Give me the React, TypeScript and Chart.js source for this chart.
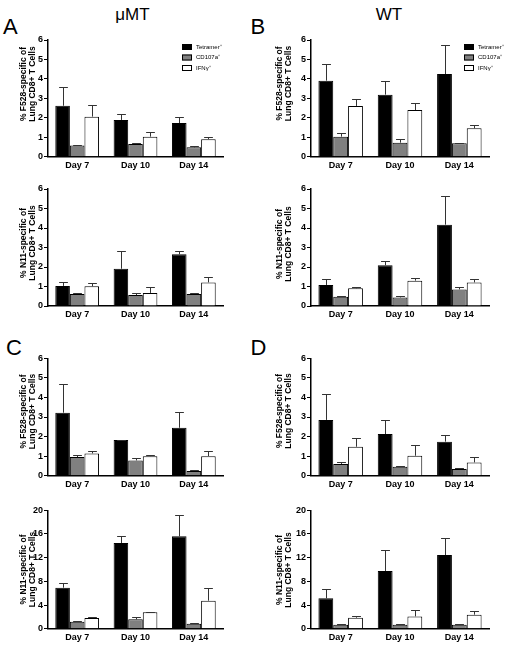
import React, { useEffect, useRef } from "react";
import { Chart, registerables } from "chart.js";

Chart.register(...registerables);

// ---------- data ----------
const DAYS = ["Day 7", "Day 10", "Day 14"];
const SERIES = ["Tetramer⁺", "CD107a⁺", "IFNγ⁺"];
const FILLS = ["#000000", "#808080", "#ffffff"];

const Y_TITLE_F528 = ["% F528-specific of", "Lung CD8+ T Cells"];
const Y_TITLE_N11 = ["% N11-specific of", "Lung CD8+ T Cells"];

// rows of each array: Tetramer+, CD107a+, IFNγ+ ; columns: Day 7, Day 10, Day 14
const A_F528_MEAN = [[2.62, 1.89, 1.73], [0.58, 0.65, 0.48], [2.06, 1.03, 0.9]];
const A_F528_ERR = [[0.95, 0.31, 0.33], [0.04, 0.05, 0.08], [0.6, 0.26, 0.1]];
const A_N11_MEAN = [[1.03, 1.91, 2.65], [0.62, 0.56, 0.62], [1.01, 0.67, 1.21]];
const A_N11_ERR = [[0.22, 0.89, 0.19], [0.03, 0.12, 0.06], [0.19, 0.29, 0.29]];

const B_F528_MEAN = [[3.91, 3.19, 4.25], [1.03, 0.72, 0.69], [2.61, 2.4, 1.46]];
const B_F528_ERR = [[0.86, 0.7, 1.49], [0.18, 0.17, 0.03], [0.34, 0.34, 0.17]];
const B_N11_MEAN = [[1.08, 2.09, 4.17], [0.48, 0.44, 0.85], [0.91, 1.3, 1.21]];
const B_N11_ERR = [[0.32, 0.2, 1.47], [0.05, 0.07, 0.11], [0.08, 0.15, 0.16]];

const C_F528_MEAN = [[3.22, 1.82, 2.45], [0.95, 0.78, 0.24], [1.14, 1.0, 1.0]];
const C_F528_ERR = [[1.45, 0.03, 0.78], [0.1, 0.1, 0.07], [0.14, 0.07, 0.26]];
const C_N11_MEAN = [[6.93, 14.48, 15.6], [1.18, 1.58, 0.85], [1.8, 2.76, 4.73]];
const C_N11_ERR = [[0.73, 1.24, 3.55], [0.1, 0.34, 0.1], [0.2, 0.1, 2.08]];

const D_F528_MEAN = [[2.85, 2.13, 1.74], [0.6, 0.46, 0.34], [1.48, 1.02, 0.68]];
const D_F528_ERR = [[1.33, 0.72, 0.32], [0.1, 0.03, 0.05], [0.43, 0.55, 0.26]];
const D_N11_MEAN = [[5.13, 9.75, 12.45], [0.68, 0.68, 0.68], [1.86, 2.08, 2.37]];
const D_N11_ERR = [[1.52, 3.6, 2.82], [0.1, 0.05, 0.05], [0.22, 1.0, 0.56]];

const Y_MAX_SMALL = 6;
const Y_STEP_SMALL = 1;
const Y_MAX_LARGE = 20;
const Y_STEP_LARGE = 4;

// ---------- layout ----------
const FONT = '"Liberation Sans", Arial, Helvetica, sans-serif';
const COL_LEFT = [0, 256];
const PLOT_LEFT = [48, 311];
const PLOT_RIGHT = [223, 489];
const PLOT_TOP = [40, 189, 358.3, 510.3];
const PLOT_BOTTOM = [156.7, 306, 475.7, 628.7];
const TITLE_CY = [
  [84, 243, 411.5, 569.5],
  [83.5, 244, 411, 570],
];
const LEGEND_X = [182, 208];
const X_AXIS_H = 20;

const errorBarPlugin = {
  id: "errorBars",
  afterDatasetsDraw(chart: any) {
    const ctx = chart.ctx;
    const y = chart.scales.y;
    chart.data.datasets.forEach((ds: any, di: number) => {
      const meta = chart.getDatasetMeta(di);
      meta.data.forEach((bar: any, i: number) => {
        const v = ds.data[i];
        const e = ds.errors[i];
        const top = y.getPixelForValue(v);
        const hi = Math.round(y.getPixelForValue(v + e)) + 0.5;
        const x = Math.round(bar.x) + 0.5;
        const cw = bar.width * 0.3;
        ctx.save();
        ctx.strokeStyle = "#333";
        ctx.lineWidth = 1;
        ctx.beginPath();
        ctx.moveTo(x, top);
        ctx.lineTo(x, hi);
        ctx.moveTo(x - cw, hi);
        ctx.lineTo(x + cw, hi);
        ctx.stroke();
        ctx.restore();
      });
    });
  },
};

const panelTextPlugin = {
  id: "panelText",
  afterDraw(chart: any, _args: any, opts: any) {
    const ctx = chart.ctx;
    ctx.save();
    ctx.fillStyle = "#000";
    ctx.font = `bold 8.5px ${FONT}`;
    ctx.textAlign = "center";
    ctx.textBaseline = "middle";
    (opts.title || []).forEach((line: string, k: number) => {
      ctx.save();
      ctx.translate(24 + k * 9, opts.titleCy);
      ctx.rotate(-Math.PI / 2);
      ctx.fillText(line, 0, 0);
      ctx.restore();
    });
    if (opts.legend) {
      ctx.font = `6px ${FONT}`;
      ctx.textAlign = "left";
      SERIES.forEach((label, i) => {
        const cy = opts.legendY + i * 10.5;
        ctx.fillStyle = FILLS[i];
        ctx.fillRect(opts.legendX, cy - 3, 10, 6);
        ctx.strokeStyle = "#000";
        ctx.lineWidth = 1;
        ctx.strokeRect(opts.legendX + 0.5, cy - 2.5, 9, 5);
        ctx.fillStyle = "#000";
        ctx.fillText(label, opts.legendX + 14, cy);
      });
    }
    ctx.restore();
  },
};

type PanelProps = {
  col: number;
  row: number;
  mean: number[][];
  err: number[][];
  yMax: number;
  yStep: number;
  yTitle: string[];
  legend?: boolean;
};

function Panel({ col, row, mean, err, yMax, yStep, yTitle, legend }: PanelProps) {
  const ref = useRef<HTMLCanvasElement | null>(null);
  const top = Math.round(PLOT_TOP[row] - 12);
  const height = Math.round(PLOT_BOTTOM[row] - top + 24);
  const width = 256;
  const padTop = PLOT_TOP[row] - top;
  const padBottom = height - (PLOT_BOTTOM[row] - top) - X_AXIS_H;
  const padRight = COL_LEFT[col] + width - PLOT_RIGHT[col];
  const yAxisW = PLOT_LEFT[col] - COL_LEFT[col];

  useEffect(() => {
    if (!ref.current) return;
    const tickFont = { family: FONT, size: 9, weight: "bold" as const };
    const chart = new Chart(ref.current, {
      type: "bar",
      data: {
        labels: DAYS,
        datasets: SERIES.map((s, i) => ({
          label: s,
          data: mean[i],
          errors: err[i],
          backgroundColor: FILLS[i],
          borderColor: "#000",
          borderWidth: 1,
          categoryPercentage: 0.75,
          barPercentage: 1,
        })) as any,
      },
      options: {
        animation: false,
        responsive: false,
        maintainAspectRatio: false,
        devicePixelRatio: 1,
        layout: { padding: { left: 0, top: padTop, right: padRight, bottom: padBottom } },
        plugins: {
          legend: { display: false },
          tooltip: { enabled: false },
          panelText: {
            title: yTitle,
            titleCy: TITLE_CY[col][row] - top,
            legend: !!legend,
            legendX: LEGEND_X[col],
            legendY: 47 - top,
          },
        } as any,
        scales: {
          x: {
            type: "category",
            offset: true,
            grid: { display: false, drawTicks: false },
            border: { display: true, color: "#000", width: 1.5 },
            ticks: { color: "#000", font: tickFont, padding: 3, maxRotation: 0, autoSkip: false },
            afterFit: (s: any) => {
              s.height = X_AXIS_H;
            },
          },
          y: {
            min: 0,
            max: yMax,
            ticks: { stepSize: yStep, color: "#000", font: tickFont, padding: 1 },
            grid: { drawOnChartArea: false, drawTicks: true, tickLength: 4, color: "#000", lineWidth: 1 },
            border: { display: true, color: "#000", width: 1.5 },
            afterFit: (s: any) => {
              s.width = yAxisW;
            },
          },
        },
      },
      plugins: [errorBarPlugin, panelTextPlugin],
    });
    return () => chart.destroy();
  }, []);

  return (
    <canvas
      ref={ref}
      width={width}
      height={height}
      style={{ position: "absolute", left: COL_LEFT[col], top, width, height }}
    />
  );
}

const labelStyle = (left: number, top: number, size: number): React.CSSProperties => ({
  position: "absolute",
  left,
  top,
  fontFamily: FONT,
  fontSize: size,
  lineHeight: `${size}px`,
  color: "#000",
  whiteSpace: "nowrap",
});

export default function App() {
  return (
    <div
      style={{
        position: "fixed",
        left: 0,
        top: 0,
        width: 512,
        height: 647,
        background: "#fff",
        overflow: "hidden",
      }}
    >
      <div style={{ ...labelStyle(82.5, 6.3, 17), width: 100, textAlign: "center" }}>μMT</div>
      <div style={{ ...labelStyle(339, 6.3, 17), width: 100, textAlign: "center" }}>WT</div>
      <div style={labelStyle(3, 16.4, 22)}>A</div>
      <div style={labelStyle(250.5, 16.4, 22)}>B</div>
      <div style={labelStyle(6, 337, 22)}>C</div>
      <div style={labelStyle(250.5, 337, 22)}>D</div>

      <Panel col={0} row={0} mean={A_F528_MEAN} err={A_F528_ERR} yMax={Y_MAX_SMALL} yStep={Y_STEP_SMALL} yTitle={Y_TITLE_F528} legend />
      <Panel col={0} row={1} mean={A_N11_MEAN} err={A_N11_ERR} yMax={Y_MAX_SMALL} yStep={Y_STEP_SMALL} yTitle={Y_TITLE_N11} />
      <Panel col={1} row={0} mean={B_F528_MEAN} err={B_F528_ERR} yMax={Y_MAX_SMALL} yStep={Y_STEP_SMALL} yTitle={Y_TITLE_F528} legend />
      <Panel col={1} row={1} mean={B_N11_MEAN} err={B_N11_ERR} yMax={Y_MAX_SMALL} yStep={Y_STEP_SMALL} yTitle={Y_TITLE_N11} />
      <Panel col={0} row={2} mean={C_F528_MEAN} err={C_F528_ERR} yMax={Y_MAX_SMALL} yStep={Y_STEP_SMALL} yTitle={Y_TITLE_F528} />
      <Panel col={0} row={3} mean={C_N11_MEAN} err={C_N11_ERR} yMax={Y_MAX_LARGE} yStep={Y_STEP_LARGE} yTitle={Y_TITLE_N11} />
      <Panel col={1} row={2} mean={D_F528_MEAN} err={D_F528_ERR} yMax={Y_MAX_SMALL} yStep={Y_STEP_SMALL} yTitle={Y_TITLE_F528} />
      <Panel col={1} row={3} mean={D_N11_MEAN} err={D_N11_ERR} yMax={Y_MAX_LARGE} yStep={Y_STEP_LARGE} yTitle={Y_TITLE_N11} />
    </div>
  );
}
